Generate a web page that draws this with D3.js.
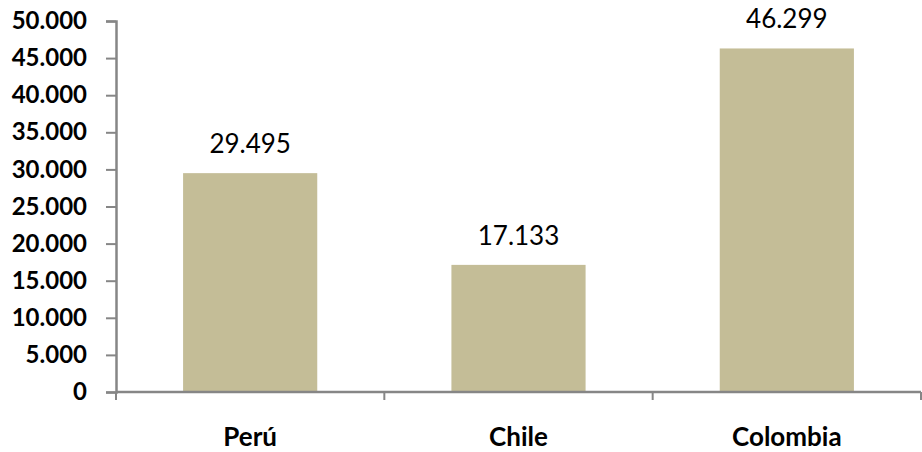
<!DOCTYPE html>
<html><head><meta charset="utf-8">
<script src="https://cdn.jsdelivr.net/npm/d3@7"></script>
<style>body{margin:0;background:#fff}svg{display:block}</style>
</head><body>
<svg id="c" width="922" height="452"></svg>
<script>
const categories = ["Perú", "Chile", "Colombia"];
const values = [29495, 17133, 46299];
const yTicks = [0, 5000, 10000, 15000, 20000, 25000, 30000, 35000, 40000, 45000, 50000];

const svg = d3.select("#c");
const m = {left: 116, right: 921, top: 21, bottom: 392};
const font = "Lato, 'Open Sans', sans-serif";
const axisColor = "#868686";
const fmt = v => d3.format(",")(v).replace(/,/g, ".");

const x = d3.scaleBand().domain(categories).range([m.left, m.right]).paddingInner(0.5).paddingOuter(0.25);
const y = d3.scaleLinear().domain([0, 50000]).range([m.bottom, m.top]);

// bars
svg.selectAll("rect.bar").data(values).join("rect")
  .attr("class", "bar")
  .attr("x", (d, i) => x(categories[i]))
  .attr("width", x.bandwidth())
  .attr("y", d => y(d))
  .attr("height", d => y(0) - y(d))
  .attr("fill", "#c4bd97");

// value labels
svg.selectAll("text.val").data(values).join("text")
  .attr("class", "val")
  .attr("x", (d, i) => x(categories[i]) + x.bandwidth() / 2)
  .attr("y", d => y(d) - 20)
  .attr("text-anchor", "middle")
  .attr("font-family", font)
  .attr("font-size", 26)
  .attr("fill", "#000")
  .text(fmt);

// y axis
const yAxis = svg.append("g").attr("transform", `translate(${m.left},0)`)
  .call(d3.axisLeft(y).tickValues(yTicks).tickFormat(fmt).tickSizeOuter(0).tickSize(10).tickPadding(19));
yAxis.select(".domain").attr("stroke", axisColor).attr("stroke-width", 2.5);
yAxis.selectAll(".tick line").attr("stroke", axisColor).attr("stroke-width", 2);
yAxis.selectAll(".tick text").attr("font-family", font).attr("font-size", 24).attr("font-weight", "bold").attr("fill", "#000");

// x axis
const xb = d3.scaleLinear().domain([0, 3]).range([m.left, m.right]);
const xAxis = svg.append("g").attr("transform", `translate(0,${m.bottom})`);
xAxis.append("line").attr("x1", m.left).attr("x2", m.right).attr("y1", 0).attr("y2", 0)
  .attr("stroke", axisColor).attr("stroke-width", 2.5);
xAxis.selectAll("line.tk").data([0, 1, 2, 3]).join("line").attr("class", "tk")
  .attr("x1", d => xb(d)).attr("x2", d => xb(d)).attr("y1", 0).attr("y2", 8)
  .attr("stroke", axisColor).attr("stroke-width", 2);
xAxis.selectAll("text.cat").data(categories).join("text").attr("class", "cat")
  .attr("x", d => x(d) + x.bandwidth() / 2)
  .attr("y", 54)
  .attr("text-anchor", "middle")
  .attr("font-family", font).attr("font-size", 26).attr("font-weight", "bold").attr("fill", "#000")
  .text(d => d);
</script>
</body></html>
